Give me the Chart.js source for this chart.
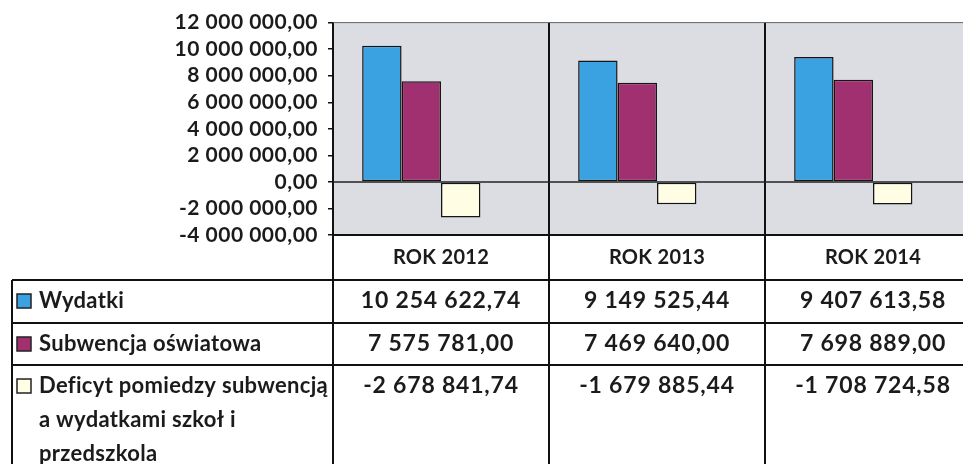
<!DOCTYPE html>
<html>
<head>
<meta charset="utf-8">
<script src="https://cdn.jsdelivr.net/npm/chart.js@4.4.1/dist/chart.umd.min.js"></script>
<style>
  html, body { margin: 0; padding: 0; background: #fff; overflow: hidden; }
  #wrap { position: absolute; left: 0; top: 0; width: 985px; height: 464px; }
</style>
</head>
<body>
<div id="wrap"><canvas id="c" width="985" height="464"></canvas></div>
<script>
// --- data ---
var years = ["ROK 2012", "ROK 2013", "ROK 2014"];
var wydatki = [10254622.74, 9149525.44, 9407613.58];
var subwencja = [7575781.00, 7469640.00, 7698889.00];
var deficyt = [-2678841.74, -1679885.44, -1708724.58];
var seriesLabels = [
  ["Wydatki"],
  ["Subwencja oświatowa"],
  ["Deficyt pomiedzy subwencją", "a wydatkami szkoł i", "przedszkola"]
];
var seriesColors = ["#3ba2e2", "#a0306f", "#fffde3"];
var yMin = -4000000, yMax = 12000000, yStep = 2000000;

var FONT = "Lato";
var TXT = "#1b1b1b";

// 12 000 000,00 style
function fmt(v) {
  var parts = Math.abs(v).toFixed(2).split(".");
  var intPart = parts[0].replace(/\B(?=(\d{3})+(?!\d))/g, " ");
  return (v < 0 ? "-" : "") + intPart + "," + parts[1];
}

// table rows under the plot (y positions)
var headerMid = 258;
var rowLines = [280, 323, 365];
var rowText = [301, 344, 386];
var lineGap = 34;

function line(ctx, x1, y1, x2, y2, w, c) {
  ctx.beginPath();
  ctx.lineWidth = w;
  ctx.strokeStyle = c || "#111";
  ctx.moveTo(x1, y1);
  ctx.lineTo(x2, y2);
  ctx.stroke();
}

var tablePlugin = {
  id: "dataTable",
  beforeDraw: function(chart) {
    var a = chart.chartArea, ctx = chart.ctx;
    // slightly wider text, like the scanned original
    ctx.letterSpacing = "0.5px";
    ctx.save();
    ctx.fillStyle = "#dcdde2";
    ctx.fillRect(a.left, a.top, a.right - a.left, a.bottom - a.top);
    ctx.restore();
  },
  afterDraw: function(chart) {
    var ctx = chart.ctx, a = chart.chartArea;
    var xs = chart.scales.x, ys = chart.scales.y;
    var H = chart.height;
    var cw = (xs.right - xs.left) / years.length;
    ctx.save();

    // plot frame and zero line
    line(ctx, a.left, a.top, a.right, a.top, 1, "#666");
    var y0 = ys.getPixelForValue(0);
    line(ctx, a.left, y0, a.right, y0, 1.5, "#222");
    line(ctx, a.left, a.bottom, chart.width, a.bottom, 2);

    // table grid
    for (var i = 0; i <= years.length; i++) {
      var bx = xs.left + i * cw;
      line(ctx, bx, a.bottom, bx, H, 2);
    }
    rowLines.forEach(function(ry) { line(ctx, 12, ry, chart.width, ry, 2); });
    line(ctx, 12, rowLines[0], 12, H, 2);

    ctx.fillStyle = TXT;
    ctx.textAlign = "center";
    ctx.textBaseline = "middle";

    // header
    ctx.letterSpacing = "0.3px";
    ctx.font = "bold 20px " + FONT;
    years.forEach(function(yr, i) {
      ctx.fillText(yr, xs.getPixelForValue(i), headerMid);
    });

    // values
    ctx.letterSpacing = "0.8px";
    ctx.font = "bold 23px " + FONT;
    var series = [wydatki, subwencja, deficyt];
    series.forEach(function(vals, r) {
      vals.forEach(function(v, i) {
        ctx.fillText(fmt(v), xs.getPixelForValue(i), rowText[r]);
      });
    });

    // legend column
    ctx.letterSpacing = "0.3px";
    ctx.font = "bold 22px " + FONT;
    ctx.textAlign = "left";
    seriesLabels.forEach(function(lines, r) {
      ctx.fillStyle = seriesColors[r];
      ctx.fillRect(17, rowText[r] - 7, 14, 14);
      ctx.lineWidth = 1.5;
      ctx.strokeStyle = "#222";
      ctx.strokeRect(17, rowText[r] - 7, 14, 14);
      ctx.fillStyle = TXT;
      lines.forEach(function(t, k) {
        ctx.fillText(t, 39, rowText[r] + k * lineGap);
      });
    });
    ctx.restore();
  }
};

var barStyle = { borderColor: "#151515", borderWidth: 1.5, borderSkipped: false };

new Chart(document.getElementById("c"), {
  type: "bar",
  data: {
    labels: years,
    datasets: [
      Object.assign({ label: seriesLabels[0].join(" "), data: wydatki, backgroundColor: seriesColors[0] }, barStyle),
      Object.assign({ label: seriesLabels[1].join(" "), data: subwencja, backgroundColor: seriesColors[1] }, barStyle),
      Object.assign({ label: seriesLabels[2].join(" "), data: deficyt, backgroundColor: seriesColors[2] }, barStyle),
      // empty slot, keeps the group left of the category centre as in the picture
      { label: "", data: [null, null, null], backgroundColor: "transparent" }
    ]
  },
  options: {
    responsive: false,
    animation: false,
    categoryPercentage: 0.73,
    barPercentage: 1,
    layout: { padding: { left: 0, top: 20, right: 4, bottom: 229 } },
    plugins: { legend: { display: false }, tooltip: { enabled: false } },
    scales: {
      x: {
        offset: true,
        grid: { offset: true, color: "#111", lineWidth: 2, drawTicks: false },
        border: { display: false },
        ticks: { display: false },
        afterFit: function(s) { s.height = 0; }
      },
      y: {
        min: yMin,
        max: yMax,
        ticks: {
          stepSize: yStep,
          autoSkip: false,
          padding: 10,
          color: TXT,
          font: { family: FONT, size: 21, weight: "bold" },
          callback: function(v) { return fmt(v); }
        },
        grid: { drawOnChartArea: false, drawTicks: true, tickLength: 5, color: "#111", lineWidth: 1.5 },
        border: { display: true, color: "#111", width: 2 },
        afterFit: function(s) { s.width = 333; }
      }
    }
  },
  plugins: [tablePlugin]
});
</script>
</body>
</html>
